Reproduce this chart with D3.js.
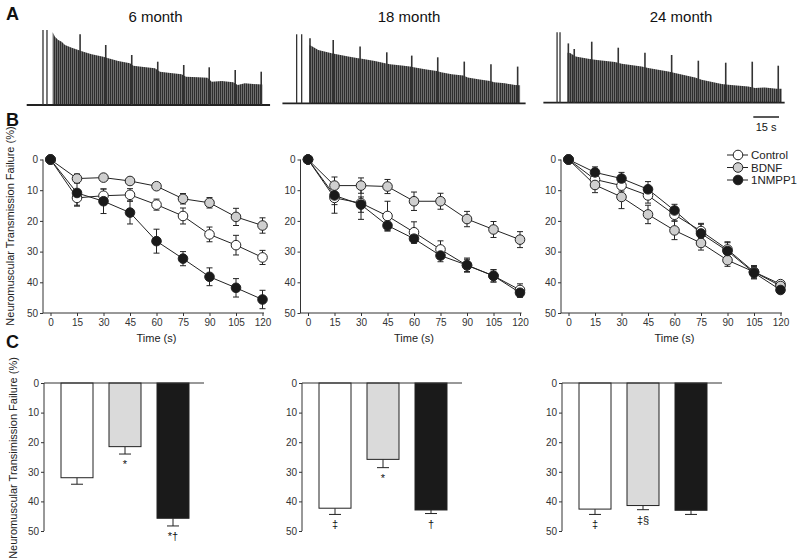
<!DOCTYPE html>
<html><head><meta charset="utf-8">
<script src="https://cdn.jsdelivr.net/npm/d3@7"></script>
<style>body{margin:0;background:#fff} text{font-family:Arial,"Liberation Sans",sans-serif}</style>
</head><body>
<svg id="c" width="800" height="559"></svg>
<script>
// ---------------- DATA ----------------
const ageLabels = ["6 month", "18 month", "24 month"];
const seriesNames = ["Control", "BDNF", "1NMPP1"];
const timePoints = [0, 15, 30, 45, 60, 75, 90, 105, 120];
const yTicks = [0, 10, 20, 30, 40, 50];

// Panel A traces: [time (s) from start of train, amplitude (a.u.)]
const trace6Envelope = [[0,72.7],[1.3,68.3],[3.2,65],[5.2,63.3],[7.1,60],[11,57.3],[14.8,55],[17.7,53.3],[22.5,50.7],[29.2,48.3],[32.1,46.7],[37.8,44],[44.6,41.7],[46.5,39.3],[51.3,38.3],[59,36.7],[61.9,33.3],[66.7,32.3],[74.4,30.7],[76.9,28.3],[84,27.7],[89.4,27.3],[91.7,23.3],[97.5,24],[104.2,22.7],[106.7,20],[110.9,21.7],[118.6,20.7],[120.9,20.5]];
const trace6Tall = [[15.8,70.7],[30.6,60],[45.6,50],[60.6,43.3],[75.6,40],[90.3,37.7],[105.3,35],[120.3,33.3]];
const trace6Stim = [[-5.6,75],[-3.3,75]];
const trace6Span = [-15, 125.4];

const trace18Envelope = [[0,58],[0.8,57.7],[5.2,53.3],[12.9,50],[15.8,49],[22.5,46.7],[28.3,45],[31.2,44.3],[37.9,42.3],[43.7,40],[46.6,39],[53.3,37.7],[58.1,36.7],[61,35.7],[66.8,34],[73.5,32.3],[76,31],[82.2,29],[88.8,27.7],[91.4,25.7],[97.5,24],[104.3,22.3],[106.7,21],[112.9,20],[118.7,18.3],[121.6,18]];
const trace18Tall = [[0.4,65],[13.8,63.3],[29.3,56.7],[44.7,51],[59.1,47.7],[74.1,46],[89.4,41.7],[104.8,39],[120.2,36.7]];
const trace18Stim = [[-7.3,69],[-4.4,69]];
const trace18Span = [-15.5, 124.8];

const trace24Envelope = [[0,50],[1.6,49.7],[4.8,46.3],[12.1,44],[16,43],[27.5,40.7],[31.4,39],[42.9,36.3],[46.7,34.7],[58.3,31.3],[62.1,29.7],[73.7,25.3],[77.5,23],[89.1,18.7],[92.9,18],[104.4,16.3],[108.3,14.7],[114,15.3],[120.8,14],[123.7,14]];
const trace24Tall = [[0.6,59.3],[4,53.7],[14.1,61],[29.4,55],[44.8,50],[60.2,47.7],[75.6,42],[91.4,40],[106.7,41],[121.7,37]];
const trace24Stim = [[-5.9,70.4],[-4.2,70.4]];
const trace24Span = [-13.8, 125.4];

// Panel B: mean failure (%) and SEM
const control6 = [0, 12.5, 11.8, 11.5, 14.7, 18.4, 24.4, 27.9, 31.9];
const control6Err = [0, 2.7, 2.2, 2.0, 1.8, 2.6, 2.4, 3.2, 2.3];
const bdnf6 = [0, 6.2, 5.9, 7.0, 8.7, 12.8, 14.1, 18.7, 21.5];
const bdnf6Err = [0, 1.5, 0.6, 0.8, 0.7, 1.7, 1.7, 2.8, 2.5];
const nmpp6 = [0, 10.9, 13.6, 17.3, 26.6, 32.3, 38.2, 41.8, 45.6];
const nmpp6Err = [0, 4.0, 4.0, 3.7, 3.9, 2.3, 2.9, 3.0, 3.0];

const control18 = [0, 12.5, 14.2, 18.4, 23.7, 29.3, 34.5, 37.9, 42.5];
const control18Err = [0, 5.0, 5.3, 4.8, 3.4, 2.8, 2.0, 2.0, 2.0];
const bdnf18 = [0, 8.5, 8.5, 8.8, 13.6, 13.6, 19.4, 22.8, 26.1];
const bdnf18Err = [0, 2.8, 2.5, 2.3, 3.0, 2.6, 2.5, 2.6, 2.6];
const nmpp18 = [0, 11.7, 14.7, 21.5, 25.8, 31.3, 34.4, 37.9, 43.4];
const nmpp18Err = [0, 3.0, 2.5, 1.8, 1.5, 2.0, 2.3, 2.0, 1.5];

const control24 = [0, 6.5, 8.5, 11.7, 18.0, 23.3, 29.3, 36.6, 40.6];
const control24Err = [0, 1.8, 1.8, 2.5, 2.0, 2.5, 2.2, 2.0, 1.0];
const bdnf24 = [0, 8.3, 12.2, 17.9, 23.1, 27.2, 32.8, 36.6, 41.2];
const bdnf24Err = [0, 2.5, 3.8, 3.0, 3.0, 2.3, 2.0, 2.0, 1.5];
const nmpp24 = [0, 4.2, 6.2, 9.7, 16.6, 24.1, 29.8, 36.9, 42.5];
const nmpp24Err = [0, 1.8, 2.0, 2.5, 2.0, 3.0, 3.0, 2.0, 1.0];

// Panel C: failure at 120 s (%), SEM and significance marks
const bars6 = [32.0, 21.5, 45.7];
const bars6Err = [2.2, 2.5, 2.6];
const marks6 = ["", "*", "*\u2020"];
const bars18 = [42.3, 25.8, 42.9];
const bars18Err = [2.1, 2.8, 1.2];
const marks18 = ["\u2021", "*", "\u2020"];
const bars24 = [42.6, 41.4, 43.0];
const bars24Err = [1.8, 1.4, 1.4];
const marks24 = ["\u2021", "\u2021\u00a7", ""];

// ---------------- DRAWING ----------------
const svg = d3.select("#c");
const FONT = 'Arial, "Liberation Sans", sans-serif';
const ink = "#222";
const fills = ["#ffffff", "#cfcfcf", "#1a1a1a"];
const barFills = ["#ffffff", "#dadada", "#1a1a1a"];

// pattern for dense stimulus trains
const defs = svg.append("defs");
const pat = defs.append("pattern").attr("id", "comb").attr("patternUnits", "userSpaceOnUse")
  .attr("width", 2).attr("height", 2);
pat.append("rect").attr("x", 0).attr("y", 0).attr("width", 2).attr("height", 2).attr("fill", "#6e6e6e");
pat.append("rect").attr("x", 0).attr("y", 0).attr("width", 1).attr("height", 2).attr("fill", "#2e2e2e");

// panel letters
[["A", 20], ["B", 125.5], ["C", 348]].forEach(([l, y]) => {
  svg.append("text").attr("x", 6).attr("y", y).attr("font-size", 18).attr("font-weight", "bold")
    .attr("fill", "#111").text(l);
});

// ---- Panel A
const traces = [
  {env: trace6Envelope, tall: trace6Tall, stim: trace6Stim, span: trace6Span},
  {env: trace18Envelope, tall: trace18Tall, stim: trace18Stim, span: trace18Span},
  {env: trace24Envelope, tall: trace24Tall, stim: trace24Stim, span: trace24Span}
];
const traceLayout = [{x0: 52.7, base: 105}, {x0: 309.3, base: 103.3}, {x0: 567.3, base: 102.7}];
const titleX = [155.5, 409, 681];

traces.forEach((tr, i) => {
  const L = traceLayout[i];
  const x = d3.scaleLinear().domain([0, 120]).range([L.x0, L.x0 + 208]);
  const y = d3.scaleLinear().domain([0, 80]).range([L.base, L.base - 80]);
  const g = svg.append("g");
  const area = d3.area().x(d => x(d[0])).y0(L.base).y1(d => y(d[1]));
  g.append("path").datum(tr.env).attr("d", area).attr("fill", "url(#comb)");
  g.append("line").attr("x1", x(tr.span[0])).attr("x2", x(tr.span[1]))
    .attr("y1", L.base).attr("y2", L.base).attr("stroke", ink).attr("stroke-width", 1.8);
  g.selectAll(".tall").data(tr.tall).join("line")
    .attr("x1", d => x(d[0])).attr("x2", d => x(d[0]))
    .attr("y1", L.base).attr("y2", d => y(d[1])).attr("stroke", "#333").attr("stroke-width", 1.6);
  g.selectAll(".stim").data(tr.stim).join("line")
    .attr("x1", d => x(d[0])).attr("x2", d => x(d[0]))
    .attr("y1", L.base).attr("y2", d => y(d[1])).attr("stroke", "#333").attr("stroke-width", 1.3);
  svg.append("text").attr("x", titleX[i]).attr("y", 22).attr("text-anchor", "middle")
    .attr("font-size", 15).attr("fill", "#111").text(ageLabels[i]);
});
// scale bar 15 s
{
  const sb = d3.scaleLinear().domain([0, 15]).range([753.3, 779]);
  svg.append("line").attr("x1", sb(0)).attr("x2", sb(15)).attr("y1", 117).attr("y2", 117)
    .attr("stroke", "#111").attr("stroke-width", 1.4);
  svg.append("text").attr("x", (sb(0) + sb(15)) / 2).attr("y", 131).attr("text-anchor", "middle")
    .attr("font-size", 11).attr("fill", "#111").text("15 s");
}

// ---- Panel B
const lineSets = [
  [[control6, control6Err], [bdnf6, bdnf6Err], [nmpp6, nmpp6Err]],
  [[control18, control18Err], [bdnf18, bdnf18Err], [nmpp18, nmpp18Err]],
  [[control24, control24Err], [bdnf24, bdnf24Err], [nmpp24, nmpp24Err]]
];
const bAxisX = [43, 300.5, 561];
const yB = d3.scaleLinear().domain([0, 50]).range([159.5, 313]);

function styleAxis(g) {
  g.selectAll("path.domain").remove();
  g.selectAll(".tick line").attr("stroke", "#333");
  g.selectAll(".tick text").attr("font-size", 10).attr("fill", "#333").attr("font-family", FONT);
}

lineSets.forEach((sets, i) => {
  const ax = bAxisX[i];
  const x = d3.scaleLinear().domain([0, 120]).range([ax + 7.5, ax + 219.5]);
  const g = svg.append("g");
  const gy = g.append("g").attr("transform", `translate(${ax},0)`)
    .call(d3.axisLeft(yB).tickValues(yTicks).tickSize(3).tickPadding(2));
  styleAxis(gy);
  g.append("line").attr("x1", ax).attr("x2", ax).attr("y1", yB(0)).attr("y2", yB(50)).attr("stroke", "#333");
  const gx = g.append("g").attr("transform", `translate(0,${yB(50)})`)
    .call(d3.axisBottom(x).tickValues(timePoints).tickSize(3).tickPadding(3));
  styleAxis(gx);
  g.append("line").attr("x1", ax).attr("x2", x(120) + 1.5).attr("y1", yB(50)).attr("y2", yB(50)).attr("stroke", "#333");
  g.append("text").attr("x", x(60)).attr("y", 342).attr("text-anchor", "middle")
    .attr("font-size", 11).attr("fill", "#222").text("Time (s)");

  sets.forEach(([vals, errs]) => {
    vals.forEach((v, k) => {
      const e = errs[k];
      if (!e) return;
      const cx = x(timePoints[k]);
      g.append("line").attr("x1", cx).attr("x2", cx).attr("y1", yB(v - e)).attr("y2", yB(v + e)).attr("stroke", ink);
      [v - e, v + e].forEach(w => g.append("line").attr("x1", cx - 3).attr("x2", cx + 3)
        .attr("y1", yB(w)).attr("y2", yB(w)).attr("stroke", ink));
    });
  });
  const line = d3.line().x((d, k) => x(timePoints[k])).y(d => yB(d));
  sets.forEach(([vals]) => {
    g.append("path").datum(vals).attr("d", line).attr("fill", "none").attr("stroke", ink).attr("stroke-width", 1);
  });
  sets.forEach(([vals], s) => {
    g.selectAll(null).data(vals).join("circle")
      .attr("cx", (d, k) => x(timePoints[k])).attr("cy", d => yB(d)).attr("r", 4.8)
      .attr("fill", fills[s]).attr("stroke", ink).attr("stroke-width", 1);
  });
});

// legend (B, 24 month)
seriesNames.forEach((n, s) => {
  const ly = 155 + s * 12.5;
  svg.append("line").attr("x1", 727).attr("x2", 748).attr("y1", ly).attr("y2", ly).attr("stroke", ink);
  svg.append("circle").attr("cx", 738).attr("cy", ly).attr("r", 4.8).attr("fill", fills[s]).attr("stroke", ink);
  svg.append("text").attr("x", 751).attr("y", ly).attr("dy", "0.35em").attr("font-size", 11.5)
    .attr("fill", "#222").text(n);
});

// y-axis titles
svg.append("text").attr("transform", "translate(14,226) rotate(-90)").attr("text-anchor", "middle")
  .attr("font-size", 11).attr("fill", "#222").text("Neuromuscular Transmission Failure (%)");
svg.append("text").attr("transform", "translate(17,458) rotate(-90)").attr("text-anchor", "middle")
  .attr("font-size", 11).attr("fill", "#222").text("Neuromuscular Transimission Failure (%)");

// ---- Panel C
const barSets = [[bars6, bars6Err, marks6], [bars18, bars18Err, marks18], [bars24, bars24Err, marks24]];
const cAxisX = [44, 302, 562];
const yC = d3.scaleLinear().domain([0, 50]).range([383, 531]);
barSets.forEach(([vals, errs, marks], i) => {
  const ax = cAxisX[i];
  const xb = d3.scaleBand().domain(seriesNames).range([ax + 9, ax + 153]).paddingInner(1 / 3).paddingOuter(1 / 6);
  const g = svg.append("g");
  const gy = g.append("g").attr("transform", `translate(${ax},0)`)
    .call(d3.axisLeft(yC).tickValues(yTicks).tickSize(3).tickPadding(2));
  styleAxis(gy);
  g.append("line").attr("x1", ax).attr("x2", ax).attr("y1", yC(0)).attr("y2", yC(50)).attr("stroke", "#333");
  seriesNames.forEach((n, s) => {
    const bx = xb(n), cx = bx + xb.bandwidth() / 2;
    const v = vals[s], e = errs[s];
    g.append("line").attr("x1", cx).attr("x2", cx).attr("y1", yC(v)).attr("y2", yC(v + e)).attr("stroke", ink);
    g.append("line").attr("x1", cx - 6).attr("x2", cx + 6).attr("y1", yC(v + e)).attr("y2", yC(v + e)).attr("stroke", ink);
    g.append("rect").attr("x", bx).attr("y", yC(0)).attr("width", xb.bandwidth()).attr("height", yC(v) - yC(0))
      .attr("fill", barFills[s]).attr("stroke", ink).attr("stroke-width", 1);
    if (marks[s]) g.append("text").attr("x", cx).attr("y", yC(v + e) + 14).attr("text-anchor", "middle")
      .attr("font-size", 11).attr("fill", "#111").text(marks[s]);
  });
  g.append("line").attr("x1", ax).attr("x2", ax + 160).attr("y1", yC(0)).attr("y2", yC(0)).attr("stroke", "#333");
});
</script>
</body></html>
